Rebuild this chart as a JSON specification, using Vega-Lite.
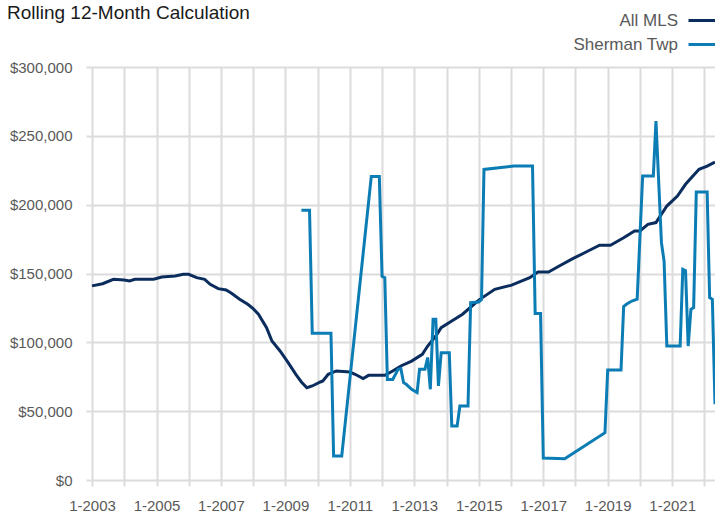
{
  "$schema": "https://vega.github.io/schema/vega-lite/v6.json",
  "width": 623,
  "height": 413,
  "autosize": {"type": "none"},
  "padding": {"left": 92, "top": 67, "right": 0, "bottom": 35},
  "background": "white",
  "title": {
    "text": "Rolling 12-Month Calculation",
    "anchor": "start",
    "frame": "group",
    "dx": -85,
    "offset": -18,
    "font": "Liberation Sans",
    "fontSize": 19,
    "fontWeight": "normal",
    "color": "#1a1a1a"
  },
  "config": {
    "view": {"stroke": null},
    "axis": {
      "labelFont": "Liberation Sans",
      "labelColor": "#595959",
      "labelFontSize": 15,
      "gridColor": "#dcdcdc",
      "gridWidth": 2,
      "tickColor": "#dcdcdc",
      "tickWidth": 2,
      "tickSize": 6,
      "domain": false,
      "title": null
    }
  },
  "data": {
    "values": [
      {"date": "2003-01-01", "series": "All MLS", "price": 141000},
      {"date": "2003-05-01", "series": "All MLS", "price": 142600},
      {"date": "2003-09-01", "series": "All MLS", "price": 145800},
      {"date": "2004-01-01", "series": "All MLS", "price": 145300},
      {"date": "2004-03-01", "series": "All MLS", "price": 144600},
      {"date": "2004-05-01", "series": "All MLS", "price": 145800},
      {"date": "2004-12-01", "series": "All MLS", "price": 145800},
      {"date": "2005-03-01", "series": "All MLS", "price": 147500},
      {"date": "2005-08-01", "series": "All MLS", "price": 148200},
      {"date": "2005-11-01", "series": "All MLS", "price": 149400},
      {"date": "2006-01-01", "series": "All MLS", "price": 149400},
      {"date": "2006-04-01", "series": "All MLS", "price": 147000},
      {"date": "2006-07-01", "series": "All MLS", "price": 145800},
      {"date": "2006-09-01", "series": "All MLS", "price": 142200},
      {"date": "2006-12-01", "series": "All MLS", "price": 139000},
      {"date": "2007-03-01", "series": "All MLS", "price": 138000},
      {"date": "2007-05-01", "series": "All MLS", "price": 135600},
      {"date": "2007-08-01", "series": "All MLS", "price": 131300},
      {"date": "2007-11-01", "series": "All MLS", "price": 127600},
      {"date": "2008-01-01", "series": "All MLS", "price": 124500},
      {"date": "2008-03-01", "series": "All MLS", "price": 120400},
      {"date": "2008-06-01", "series": "All MLS", "price": 110700},
      {"date": "2008-08-01", "series": "All MLS", "price": 101000},
      {"date": "2008-11-01", "series": "All MLS", "price": 93700},
      {"date": "2009-02-01", "series": "All MLS", "price": 85300},
      {"date": "2009-05-01", "series": "All MLS", "price": 76500},
      {"date": "2009-07-01", "series": "All MLS", "price": 71200},
      {"date": "2009-09-01", "series": "All MLS", "price": 67000},
      {"date": "2009-11-01", "series": "All MLS", "price": 68300},
      {"date": "2010-02-01", "series": "All MLS", "price": 71200},
      {"date": "2010-03-01", "series": "All MLS", "price": 71900},
      {"date": "2010-05-01", "series": "All MLS", "price": 76800},
      {"date": "2010-08-01", "series": "All MLS", "price": 79200},
      {"date": "2011-01-01", "series": "All MLS", "price": 78500},
      {"date": "2011-03-01", "series": "All MLS", "price": 76800},
      {"date": "2011-06-01", "series": "All MLS", "price": 73700},
      {"date": "2011-08-01", "series": "All MLS", "price": 76000},
      {"date": "2012-02-01", "series": "All MLS", "price": 76000},
      {"date": "2012-05-01", "series": "All MLS", "price": 79200},
      {"date": "2012-08-01", "series": "All MLS", "price": 82800},
      {"date": "2012-12-01", "series": "All MLS", "price": 86400},
      {"date": "2013-04-01", "series": "All MLS", "price": 91300},
      {"date": "2013-06-01", "series": "All MLS", "price": 97300},
      {"date": "2013-09-01", "series": "All MLS", "price": 104600},
      {"date": "2013-11-01", "series": "All MLS", "price": 110700},
      {"date": "2014-03-01", "series": "All MLS", "price": 115500},
      {"date": "2014-07-01", "series": "All MLS", "price": 120400},
      {"date": "2015-01-01", "series": "All MLS", "price": 130700},
      {"date": "2015-07-01", "series": "All MLS", "price": 138500},
      {"date": "2016-01-01", "series": "All MLS", "price": 141400},
      {"date": "2016-08-01", "series": "All MLS", "price": 147000},
      {"date": "2016-11-01", "series": "All MLS", "price": 151000},
      {"date": "2017-03-01", "series": "All MLS", "price": 151000},
      {"date": "2017-07-01", "series": "All MLS", "price": 155400},
      {"date": "2017-12-01", "series": "All MLS", "price": 160800},
      {"date": "2018-05-01", "series": "All MLS", "price": 165600},
      {"date": "2018-10-01", "series": "All MLS", "price": 170500},
      {"date": "2019-02-01", "series": "All MLS", "price": 170500},
      {"date": "2019-07-01", "series": "All MLS", "price": 176000},
      {"date": "2019-11-01", "series": "All MLS", "price": 180900},
      {"date": "2020-01-01", "series": "All MLS", "price": 180900},
      {"date": "2020-04-01", "series": "All MLS", "price": 185700},
      {"date": "2020-07-01", "series": "All MLS", "price": 187000},
      {"date": "2020-11-01", "series": "All MLS", "price": 199000},
      {"date": "2021-03-01", "series": "All MLS", "price": 206300},
      {"date": "2021-06-01", "series": "All MLS", "price": 214800},
      {"date": "2021-11-01", "series": "All MLS", "price": 225700},
      {"date": "2022-02-01", "series": "All MLS", "price": 228000},
      {"date": "2022-05-01", "series": "All MLS", "price": 231000},
      {"date": "2009-07-01", "series": "Sherman Twp", "price": 196000},
      {"date": "2009-10-01", "series": "Sherman Twp", "price": 196000},
      {"date": "2009-11-01", "series": "Sherman Twp", "price": 106600},
      {"date": "2010-06-01", "series": "Sherman Twp", "price": 106600},
      {"date": "2010-07-01", "series": "Sherman Twp", "price": 17400},
      {"date": "2010-10-01", "series": "Sherman Twp", "price": 17400},
      {"date": "2011-09-01", "series": "Sherman Twp", "price": 220500},
      {"date": "2011-12-01", "series": "Sherman Twp", "price": 220500},
      {"date": "2012-01-01", "series": "Sherman Twp", "price": 148000},
      {"date": "2012-02-01", "series": "Sherman Twp", "price": 147000},
      {"date": "2012-03-01", "series": "Sherman Twp", "price": 73000},
      {"date": "2012-05-01", "series": "Sherman Twp", "price": 73000},
      {"date": "2012-07-01", "series": "Sherman Twp", "price": 80400},
      {"date": "2012-08-01", "series": "Sherman Twp", "price": 80900},
      {"date": "2012-09-01", "series": "Sherman Twp", "price": 70700},
      {"date": "2012-10-01", "series": "Sherman Twp", "price": 69500},
      {"date": "2012-12-01", "series": "Sherman Twp", "price": 65900},
      {"date": "2013-02-01", "series": "Sherman Twp", "price": 63500},
      {"date": "2013-03-01", "series": "Sherman Twp", "price": 80400},
      {"date": "2013-05-01", "series": "Sherman Twp", "price": 80400},
      {"date": "2013-06-01", "series": "Sherman Twp", "price": 89000},
      {"date": "2013-07-01", "series": "Sherman Twp", "price": 65900},
      {"date": "2013-08-01", "series": "Sherman Twp", "price": 116700},
      {"date": "2013-09-01", "series": "Sherman Twp", "price": 116700},
      {"date": "2013-10-01", "series": "Sherman Twp", "price": 68300},
      {"date": "2013-11-01", "series": "Sherman Twp", "price": 92500},
      {"date": "2014-02-01", "series": "Sherman Twp", "price": 92500},
      {"date": "2014-03-01", "series": "Sherman Twp", "price": 39200},
      {"date": "2014-05-01", "series": "Sherman Twp", "price": 39200},
      {"date": "2014-06-01", "series": "Sherman Twp", "price": 53700},
      {"date": "2014-09-01", "series": "Sherman Twp", "price": 53700},
      {"date": "2014-10-01", "series": "Sherman Twp", "price": 128900},
      {"date": "2015-01-01", "series": "Sherman Twp", "price": 129300},
      {"date": "2015-02-01", "series": "Sherman Twp", "price": 131000},
      {"date": "2015-03-01", "series": "Sherman Twp", "price": 225600},
      {"date": "2016-02-01", "series": "Sherman Twp", "price": 228000},
      {"date": "2016-09-01", "series": "Sherman Twp", "price": 228000},
      {"date": "2016-10-01", "series": "Sherman Twp", "price": 121000},
      {"date": "2016-12-01", "series": "Sherman Twp", "price": 121000},
      {"date": "2017-01-01", "series": "Sherman Twp", "price": 16000},
      {"date": "2017-09-01", "series": "Sherman Twp", "price": 15500},
      {"date": "2018-12-01", "series": "Sherman Twp", "price": 34400},
      {"date": "2019-01-01", "series": "Sherman Twp", "price": 79900},
      {"date": "2019-06-01", "series": "Sherman Twp", "price": 79900},
      {"date": "2019-07-01", "series": "Sherman Twp", "price": 126000},
      {"date": "2019-08-01", "series": "Sherman Twp", "price": 127600},
      {"date": "2019-10-01", "series": "Sherman Twp", "price": 130000},
      {"date": "2019-12-01", "series": "Sherman Twp", "price": 131300},
      {"date": "2020-02-01", "series": "Sherman Twp", "price": 220800},
      {"date": "2020-06-01", "series": "Sherman Twp", "price": 220800},
      {"date": "2020-07-01", "series": "Sherman Twp", "price": 260800},
      {"date": "2020-09-01", "series": "Sherman Twp", "price": 172400},
      {"date": "2020-10-01", "series": "Sherman Twp", "price": 159000},
      {"date": "2020-11-01", "series": "Sherman Twp", "price": 97300},
      {"date": "2021-04-01", "series": "Sherman Twp", "price": 97300},
      {"date": "2021-05-01", "series": "Sherman Twp", "price": 153000},
      {"date": "2021-06-01", "series": "Sherman Twp", "price": 152000},
      {"date": "2021-07-01", "series": "Sherman Twp", "price": 97300},
      {"date": "2021-08-01", "series": "Sherman Twp", "price": 124000},
      {"date": "2021-09-01", "series": "Sherman Twp", "price": 125200},
      {"date": "2021-10-01", "series": "Sherman Twp", "price": 209200},
      {"date": "2022-02-01", "series": "Sherman Twp", "price": 209200},
      {"date": "2022-03-01", "series": "Sherman Twp", "price": 132500},
      {"date": "2022-04-01", "series": "Sherman Twp", "price": 131300},
      {"date": "2022-05-01", "series": "Sherman Twp", "price": 55000}
    ]
  },
  "mark": {"type": "line", "strokeWidth": 3, "clip": false},
  "encoding": {
    "x": {
      "field": "date",
      "type": "temporal",
      "scale": {
        "type": "utc",
        "domain": [
          {"year": 2003, "month": 1, "date": 1, "utc": true},
          {"year": 2022, "month": 5, "date": 1, "utc": true}
        ]
      },
      "axis": {
        "tickCount": {"interval": "year", "step": 1},
        "labelExpr": "utcyear(datum.value) % 2 == 1 ? '1-' + utcyear(datum.value) : ''",
        "labelPadding": 12,
        "labelFlush": false,
        "labelOverlap": false
      }
    },
    "y": {
      "field": "price",
      "type": "quantitative",
      "scale": {"domain": [0, 300000]},
      "axis": {
        "values": [0, 50000, 100000, 150000, 200000, 250000, 300000],
        "format": "$,.0f",
        "labelPadding": 14
      }
    },
    "color": {
      "field": "series",
      "type": "nominal",
      "scale": {"domain": ["All MLS", "Sherman Twp"], "range": ["#0b2d5e", "#0b7db4"]},
      "legend": {
        "orient": "none",
        "legendX": 595,
        "legendY": -62,
        "title": null,
        "symbolType": "stroke",
        "symbolSize": 784,
        "symbolStrokeWidth": 3,
        "labelAlign": "right",
        "labelOffset": -40,
        "labelFont": "Liberation Sans",
        "labelFontSize": 17,
        "labelColor": "#595959",
        "labelLimit": 0,
        "rowPadding": -6
      }
    }
  }
}
